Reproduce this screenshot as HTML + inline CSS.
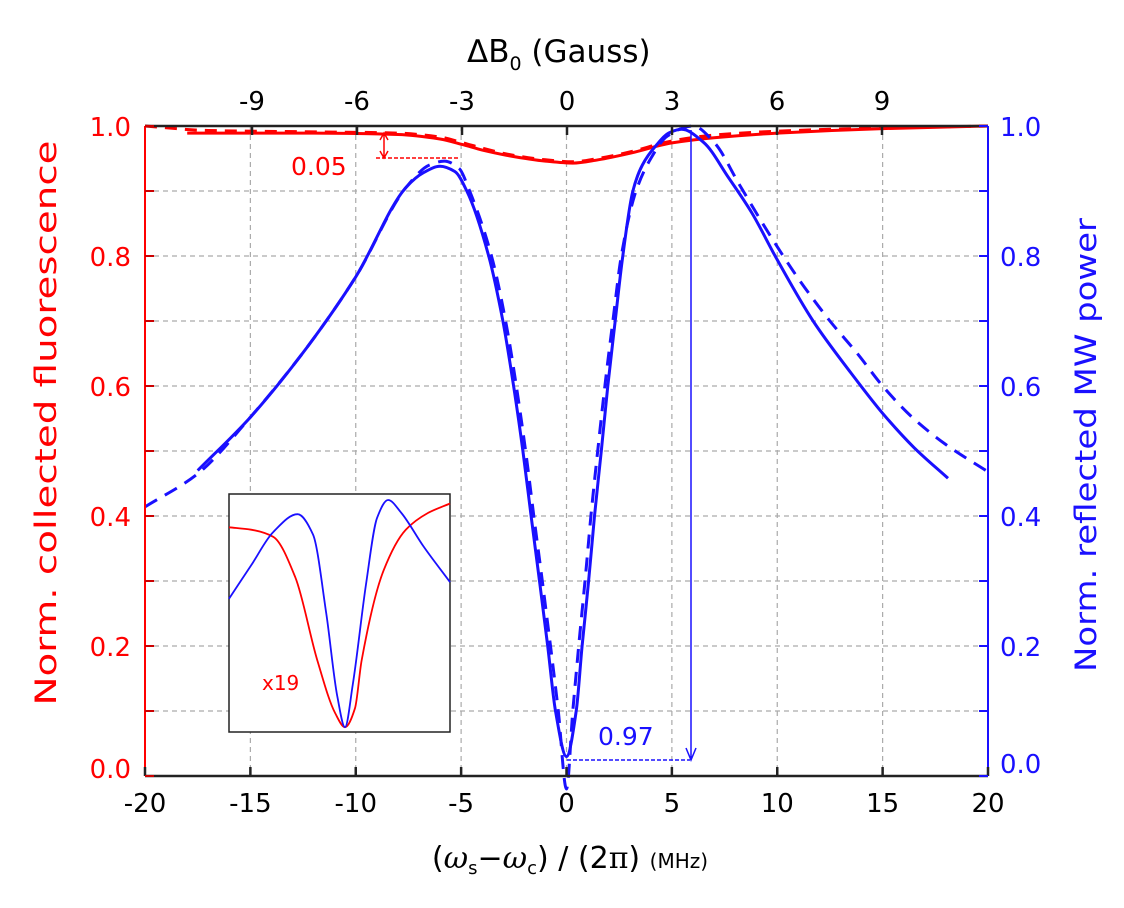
<!DOCTYPE html>
<html><head><meta charset="utf-8"><style>
body{margin:0;background:#fff;}
svg{display:block;font-family:"DejaVu Sans","Liberation Sans",sans-serif;}
</style></head><body>
<svg id="chart" width="1124" height="908" viewBox="0 0 1124 908" xmlns="http://www.w3.org/2000/svg">
<g id="grid"></g>
<g id="series"></g>
<g id="axes"></g>
<g id="inset"></g>
<text x="467" y="62" font-size="31">ΔB<tspan font-size="19" dy="8">0</tspan><tspan dy="-8"> (Gauss)</tspan></text>
<text x="570" y="868" font-size="30" text-anchor="middle">(<tspan font-family="DejaVu Serif" font-style="italic">ω</tspan><tspan font-size="18" dy="6">s</tspan><tspan dy="-6">−</tspan><tspan font-family="DejaVu Serif" font-style="italic">ω</tspan><tspan font-size="18" dy="6">c</tspan><tspan dy="-6">) / (2</tspan><tspan font-family="DejaVu Serif">π</tspan>) <tspan font-size="20">(MHz)</tspan></text>
<text transform="translate(56,423) rotate(-90)" font-size="29" fill="#ff0000" text-anchor="middle" textLength="565" lengthAdjust="spacingAndGlyphs">Norm. collected fluorescence</text>
<text transform="translate(1096,445) rotate(-90)" font-size="29" fill="#1a10ff" text-anchor="middle" textLength="454" lengthAdjust="spacingAndGlyphs">Norm. reflected MW power</text>
</svg>
<script>
const xTicks=[-20,-15,-10,-5,0,5,10,15,20];
const topTicks=[-9,-6,-3,0,3,6,9];
const yTicks=[0,0.2,0.4,0.6,0.8,1.0];
const yGrid=[0.1,0.2,0.3,0.4,0.5,0.6,0.7,0.8,0.9];
const blueSolidX=[-17.5,-15,-12.3,-10,-7.6,-6.8,-6,-5.3,-4.73,-3.69,-3.02,-2.51,-2.07,-1.68,-1.28,-0.89,-0.52,0,0.46,0.74,1.05,1.33,1.65,1.96,2.31,2.67,3.15,3.6,4.25,4.9,5.46,6.5,7.7,8.8,10,11.7,13.5,15,16.5,18.1];
const blueSolidY=[0.47,0.552,0.66,0.768,0.906,0.928,0.938,0.93,0.9,0.8,0.7,0.6,0.5,0.4,0.3,0.2,0.1,0.03,0.1,0.2,0.3,0.4,0.5,0.6,0.7,0.8,0.9,0.94,0.97,0.99,0.995,0.975,0.92,0.866,0.794,0.70,0.62,0.558,0.505,0.458];
const blueDashX=[-20,-17.5,-15,-12.3,-10,-7.6,-6.5,-5.8,-5.1,-4.6,-3.56,-2.89,-2.38,-1.94,-1.55,-1.15,-0.76,-0.39,0,0.3,0.58,0.88,1.16,1.48,1.82,2.2,2.6,3.3,4.0,4.8,6,7,8.2,9.5,11.05,12.5,13.8,15,16.4,18,20];
const blueDashY=[0.414,0.465,0.552,0.66,0.768,0.906,0.94,0.946,0.935,0.9,0.8,0.7,0.6,0.5,0.4,0.3,0.2,0.1,-0.02,0.1,0.2,0.3,0.4,0.5,0.6,0.7,0.8,0.9,0.95,0.985,1.0,0.975,0.91,0.84,0.763,0.70,0.65,0.60,0.552,0.51,0.468];
const redSolidX=[-18,-12,-8,-6,-5,-4,-2.85,-1,0.3,1.5,3,5,7,10,15,20];
const redSolidY=[0.989,0.989,0.987,0.98,0.972,0.963,0.955,0.946,0.943,0.948,0.958,0.974,0.982,0.989,0.996,1.0];
const redDashX=[-20,-17,-12,-8,-6,-5,-4,-2.85,-1,0.3,1.5,3,5,7,10,15,20];
const redDashY=[1.0,0.993,0.991,0.989,0.983,0.975,0.966,0.957,0.948,0.945,0.95,0.96,0.977,0.986,0.992,0.997,1.0];
const insetRedU=[0,0.1,0.2,0.3,0.4,0.48,0.525,0.57,0.6,0.7,0.8,0.9,1];
const insetRedV=[0.86,0.85,0.82,0.65,0.3,0.08,0.02,0.1,0.3,0.68,0.85,0.92,0.96];
const insetBlueU=[0,0.1,0.2,0.31,0.38,0.44,0.49,0.525,0.56,0.62,0.67,0.72,0.78,0.88,1];
const insetBlueV=[0.56,0.7,0.84,0.915,0.83,0.5,0.15,0.02,0.2,0.62,0.9,0.975,0.92,0.78,0.63];

const L=145,R=988,T=126,B=776;
const sx=v=>L+(v+20)/40*(R-L);
const sy=v=>B-v*(B-T);
const NS='http://www.w3.org/2000/svg';
function mk(tag,attrs,parent){const e=document.createElementNS(NS,tag);for(const k in attrs)e.setAttribute(k,attrs[k]);parent.appendChild(e);return e;}
function mono(pts){const n=pts.length,dx=[],m=[],t=[];
 for(let i=0;i<n-1;i++){dx[i]=pts[i+1][0]-pts[i][0];m[i]=(pts[i+1][1]-pts[i][1])/dx[i];}
 t[0]=m[0];t[n-1]=m[n-2];
 for(let i=1;i<n-1;i++){if(m[i-1]*m[i]<=0)t[i]=0;else{const w1=2*dx[i]+dx[i-1],w2=dx[i]+2*dx[i-1];t[i]=(w1+w2)/(w1/m[i-1]+w2/m[i]);}}
 let d='M'+pts[0][0].toFixed(1)+','+pts[0][1].toFixed(1);
 for(let i=0;i<n-1;i++){const h=dx[i]/3;d+=' C'+(pts[i][0]+h).toFixed(1)+','+(pts[i][1]+t[i]*h).toFixed(1)+' '+(pts[i+1][0]-h).toFixed(1)+','+(pts[i+1][1]-t[i+1]*h).toFixed(1)+' '+pts[i+1][0].toFixed(1)+','+pts[i+1][1].toFixed(1);}
 return d;}
const grid=document.getElementById('grid'),axes=document.getElementById('axes'),ser=document.getElementById('series'),ins=document.getElementById('inset');
xTicks.forEach(t=>{if(t>-20&&t<20){const l=mk('line',{x1:sx(t),x2:sx(t),y1:T,y2:B,stroke:'#aaa','stroke-dasharray':'5,4','stroke-width':1.2},grid);
}});
yGrid.forEach(t=>{const l=mk('line',{x1:L,x2:R,y1:sy(t),y2:sy(t),stroke:'#aaa','stroke-dasharray':'5,4','stroke-width':1.2},grid);
});
let a=mk('line',{x1:L,x2:R,y1:B,y2:B,stroke:'#222','stroke-width':2.5},axes);
a=mk('line',{x1:L,x2:R,y1:T,y2:T,stroke:'#222','stroke-width':2.5},axes);
a=mk('line',{x1:L,x2:L,y1:T,y2:B,stroke:'#ff0000','stroke-width':2},axes);
a=mk('line',{x1:R,x2:R,y1:T,y2:B,stroke:'#1a10ff','stroke-width':2},axes);
xTicks.forEach(t=>{const l=mk('line',{x1:sx(t),x2:sx(t),y1:B,y2:B-9,stroke:'#222','stroke-width':2.5},axes);
const tx=mk('text',{x:sx(t),y:B+36,'font-size':26,'text-anchor':'middle'},axes);tx.textContent=t;});
topTicks.forEach(t=>{const x=567+t*105/3;const l=mk('line',{x1:x,x2:x,y1:T,y2:T+9,stroke:'#222','stroke-width':2.5},axes);
const tx=mk('text',{x:x,y:T-16,'font-size':26,'text-anchor':'middle'},axes);tx.textContent=t;});
yGrid.concat([0,1]).forEach(t=>{let l=mk('line',{x1:L,x2:L+9,y1:sy(t),y2:sy(t),stroke:'#cc0000','stroke-width':2},axes);
l=mk('line',{x1:R-9,x2:R,y1:sy(t),y2:sy(t),stroke:'#1a10ff','stroke-width':2},axes);});
yTicks.forEach(t=>{let tx=mk('text',{x:L-14,y:sy(t)+(t==0?2:10),'font-size':26,'text-anchor':'end',fill:'#ff0000'},axes);tx.textContent=t.toFixed(1);
tx=mk('text',{x:R+12,y:sy(t)+(t==0?-3:10),'font-size':26,'text-anchor':'start',fill:'#1a10ff'},axes);tx.textContent=t.toFixed(1);});
function series(xs,ys,color,dash,name){const pts=xs.map((x,i)=>[sx(x),sy(ys[i])]);const p=mk('path',{d:mono(pts),fill:'none',stroke:color,'stroke-width':3},ser);
if(dash)p.setAttribute('stroke-dasharray',dash);}
series(redDashX,redDashY,'#ff0000','12,8','red-dashed-curve');
series(redSolidX,redSolidY,'#ff0000',null,'red-solid-curve');
series(blueDashX,blueDashY,'#1a10ff','14,9','blue-dashed-curve');
series(blueSolidX,blueSolidY,'#1a10ff',null,'blue-solid-curve');
let e=mk('line',{x1:376,x2:460,y1:158,y2:158,stroke:'#ff0000','stroke-width':1.5,'stroke-dasharray':'4,2'},ser);
e=mk('path',{d:'M384,133 L384,158 M380,140 L384,133 L388,140 M380,151 L384,158 L388,151',stroke:'#ff0000','stroke-width':1.5,fill:'none'},ser);
e=mk('text',{x:291,y:175,'font-size':25,fill:'#ff0000'},ser);e.textContent='0.05';
e=mk('line',{x1:567,x2:690,y1:760,y2:760,stroke:'#1a10ff','stroke-width':1.5,'stroke-dasharray':'4,2'},ser);
e=mk('path',{d:'M691,130 L691,760 M686,748 L691,760 L696,748',stroke:'#1a10ff','stroke-width':1.5,fill:'none'},ser);
e=mk('text',{x:598,y:745,'font-size':25,fill:'#1a10ff'},ser);e.textContent='0.97';
const IL=229,IT=494,IW=221,IH=238;
e=mk('rect',{x:IL,y:IT,width:IW,height:IH,fill:'#fff',stroke:'#222','stroke-width':1.5},ins);
const iu=u=>IL+u*IW,iv=v=>IT+IH-v*IH;
e=mk('path',{d:mono(insetRedU.map((u,i)=>[iu(u),iv(insetRedV[i])])),fill:'none',stroke:'#ff0000','stroke-width':1.8},ins);
e=mk('path',{d:mono(insetBlueU.map((u,i)=>[iu(u),iv(insetBlueV[i])])),fill:'none',stroke:'#1a10ff','stroke-width':1.8},ins);
e=mk('text',{x:262,y:690,'font-size':20,fill:'#ff0000'},ins);e.textContent='x19';
</script>
</body></html>
